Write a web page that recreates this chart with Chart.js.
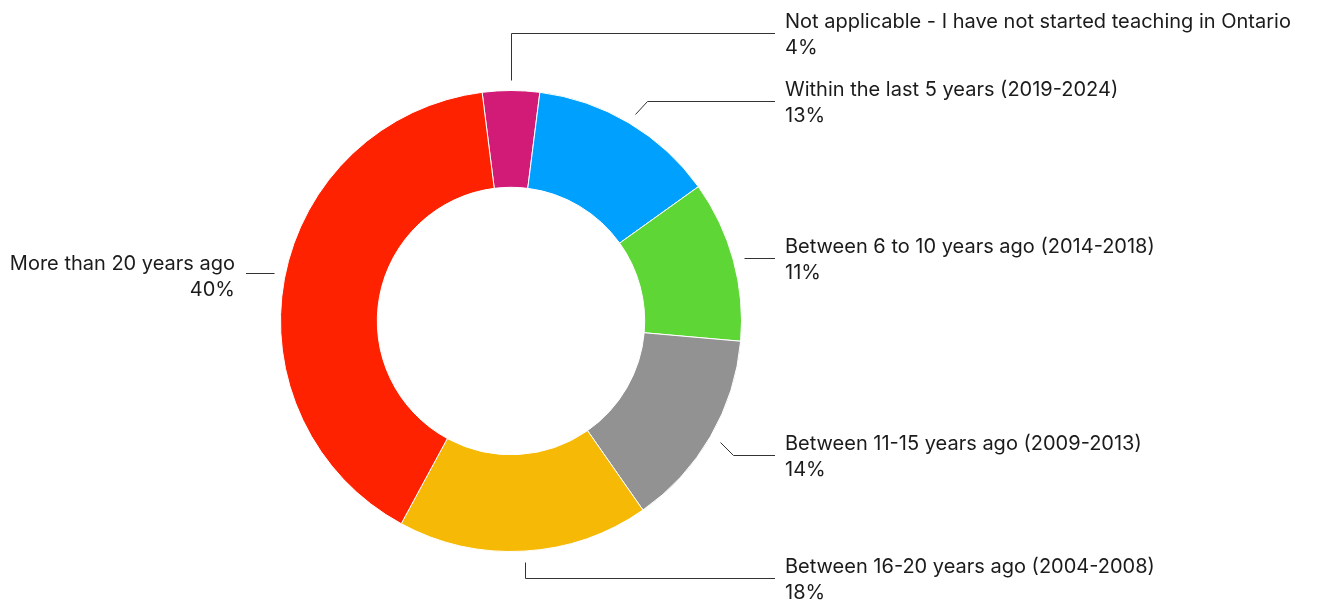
<!DOCTYPE html>
<html>
<head>
<meta charset="utf-8">
<title>Years since started teaching in Ontario</title>
<script src="https://cdn.jsdelivr.net/npm/chart.js@4.4.1/dist/chart.umd.min.js"></script>
<style>
    body {
        margin: 0;
        padding: 0;
        background: #ffffff;
    }
    #chart-wrap {
        width: 1319px;
        height: 604px;
    }
</style>
</head>
<body>
<div id="chart-wrap">
    <canvas id="startedChart" width="1319" height="604"></canvas>
</div>
<script>
// Categories in clockwise order, starting at the top
const categories = [
    "Not applicable - I have not started teaching in Ontario",
    "Within the last 5 years (2019-2024)",
    "Between 6 to 10 years ago (2014-2018)",
    "Between 11-15 years ago (2009-2013)",
    "Between 16-20 years ago (2004-2008)",
    "More than 20 years ago"
];

// Share of respondents (%)
const shares = [4.0, 13.1, 11.3, 13.9, 17.6, 40.1];

const sliceColors = ["#d21b76", "#00a1fe", "#5dd636", "#929292", "#f6b906", "#ff2200"];

// Layout only: y of each leader line's horizontal run
const labelLineY = [33, 101, 258, 455, 578, 273];

const FONT = "20px Inter, Roboto, sans-serif";
const TEXT_COLOR = "#1b1b1b";
const LINE_COLOR = "#333333";

// Draws the leader lines and the two-line labels next to each slice
const leaderLabels = {
    id: "leaderLabels",
    afterDatasetsDraw(chart) {
        const ctx = chart.ctx;
        const arcs = chart.getDatasetMeta(0).data;

        ctx.save();
        ctx.font = FONT;
        ctx.fillStyle = TEXT_COLOR;
        ctx.strokeStyle = LINE_COLOR;
        ctx.lineWidth = 1;
        ctx.textBaseline = "alphabetic";

        arcs.forEach((arc, i) => {
            const { x, y, startAngle, endAngle, outerRadius } =
                arc.getProps(["x", "y", "startAngle", "endAngle", "outerRadius"], true);
            const mid = (startAngle + endAngle) / 2;
            const sx = x + Math.cos(mid) * (outerRadius + 11);
            let sy = y + Math.sin(mid) * (outerRadius + 11);
            const ly = labelLineY[i];
            const onRight = Math.cos(mid) >= -0.05;
            const dir = onRight ? 1 : -1;

            // small offsets: just run straight across
            if (Math.abs(ly - sy) < 5) sy = ly;

            // near the top / bottom the connector goes straight up or down, otherwise at 45 degrees
            let ex = sx;
            if (Math.abs(Math.cos(mid)) > 0.35) {
                ex = sx + dir * Math.abs(ly - sy);
            }
            const endX = onRight ? 775 : 246;

            ctx.beginPath();
            ctx.moveTo(Math.round(sx) + 0.5, Math.round(sy) + 0.5);
            ctx.lineTo(Math.round(ex) + 0.5, Math.round(ly) + 0.5);
            ctx.lineTo(endX, Math.round(ly) + 0.5);
            ctx.stroke();

            const pct = Math.round(shares[i]) + "%";
            if (onRight) {
                ctx.textAlign = "left";
                ctx.fillText(categories[i], 785, ly - 5);
                ctx.fillText(pct, 785, ly + 21);
            } else {
                ctx.textAlign = "right";
                ctx.fillText(categories[i], 235, ly - 3);
                ctx.fillText(pct, 235, ly + 23);
            }
        });
        ctx.restore();
    }
};

function createDonut(canvasId) {
    const ctx = document.getElementById(canvasId).getContext("2d");
    const total = shares.reduce((a, b) => a + b, 0);

    return new Chart(ctx, {
        type: "doughnut",
        data: {
            labels: categories,
            datasets: [{
                data: shares,
                backgroundColor: sliceColors,
                borderColor: "#ffffff",
                borderWidth: 1
            }]
        },
        options: {
            responsive: false,
            animation: false,
            devicePixelRatio: 1,
            cutout: "58%",
            rotation: -(shares[0] / total) * 180, // centre the first slice on the top
            layout: {
                padding: { top: 90, bottom: 52, left: 280, right: 577 }
            },
            plugins: {
                legend: { display: false },
                tooltip: { enabled: false },
                title: { display: false }
            }
        },
        plugins: [leaderLabels]
    });
}

createDonut("startedChart");
</script>
</body>
</html>
